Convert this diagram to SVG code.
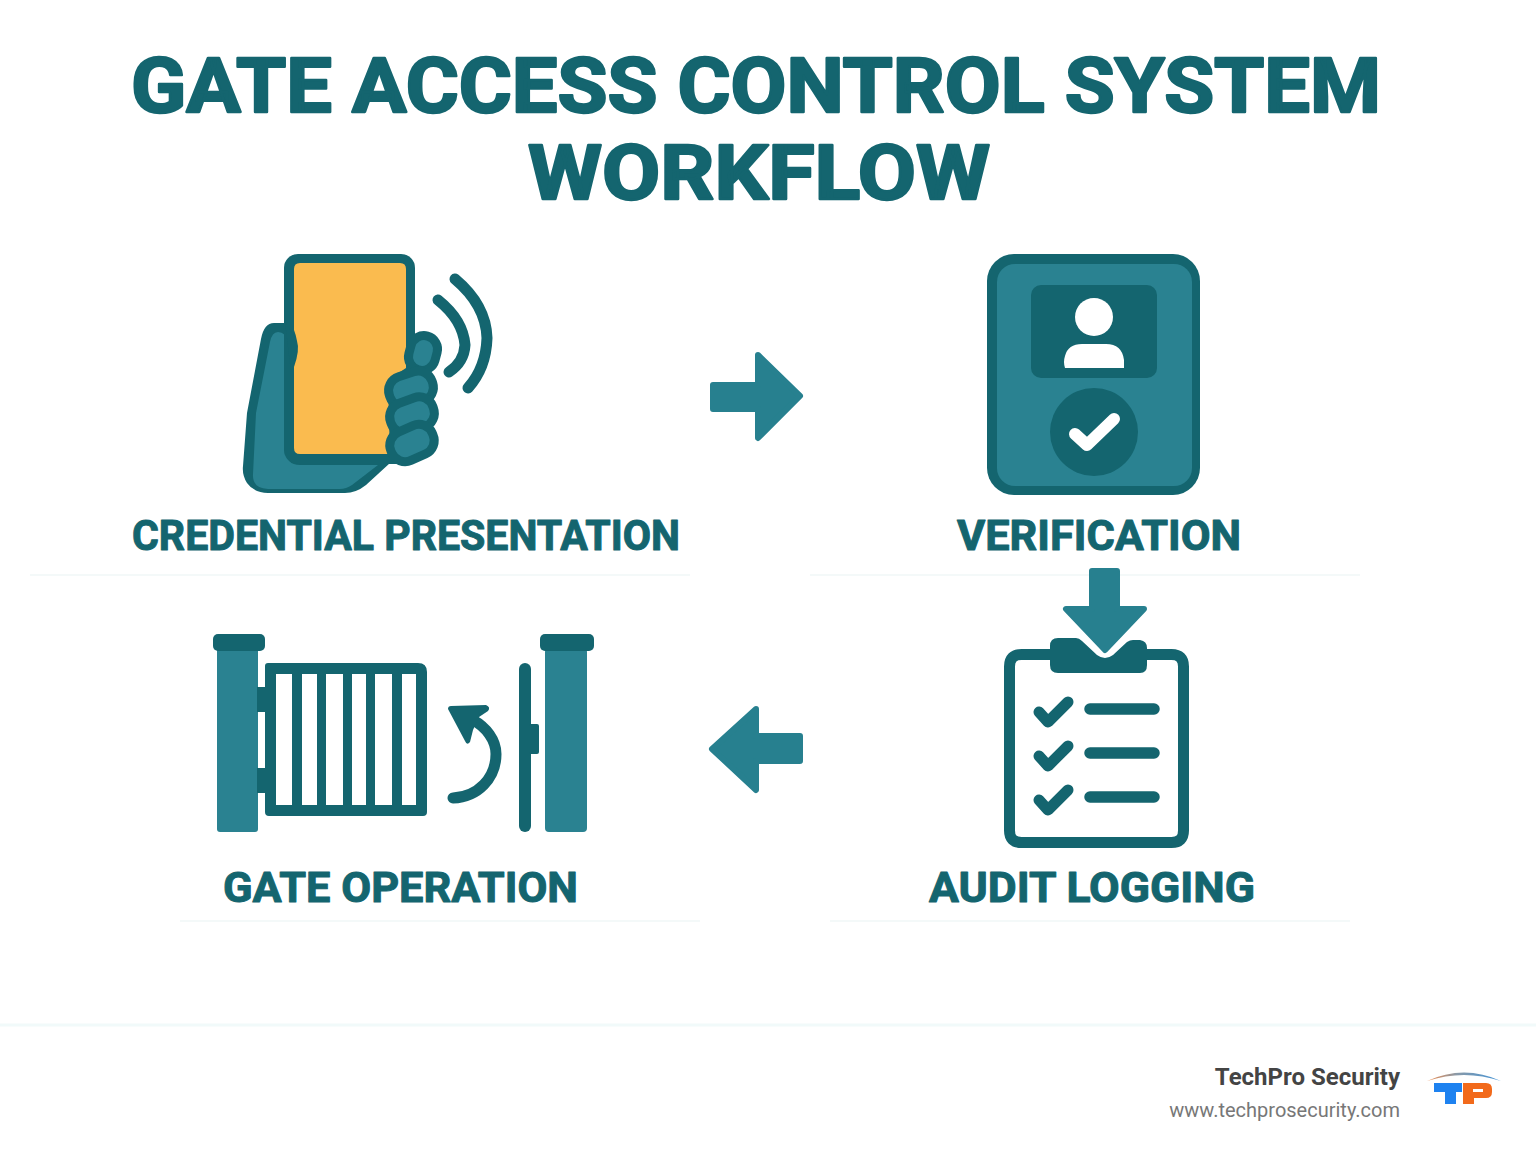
<svg xmlns="http://www.w3.org/2000/svg" width="1536" height="1154" viewBox="0 0 1536 1154">
<style>
.t{font-family:Roboto,"Liberation Sans",sans-serif;font-weight:700;fill:#14656f;stroke:#14656f;stroke-linejoin:round}
.title{font-size:76px;stroke-width:2.4px}
.lab{font-size:42px;stroke-width:1px}
.d{fill:#14656f}
.m{fill:#2a8291}
.f{fill:#2a8291;stroke:#14656f;stroke-width:18;paint-order:stroke}
.s{fill:none;stroke:#14656f;stroke-linecap:round;stroke-linejoin:round}
.a{fill:#27808f;stroke:#27808f;stroke-width:6;stroke-linejoin:round}
.w{fill:#fff}
.faint{stroke:#f4f9f9;stroke-width:2;fill:none}
</style>
<rect width="1536" height="1154" fill="#fff"/>
<g id="backdrop">
<path class="faint" d="M30 575H690M810 575H1360M180 921H700M830 921H1350"/>
<path d="M0 1025H1536" stroke="#f1fafa" stroke-width="3" fill="none"/>
</g>
<g id="title">
<text class="t title"><tspan x="131" y="112" textLength="1250" lengthAdjust="spacingAndGlyphs">GATE ACCESS CONTROL SYSTEM</tspan><tspan x="528" y="199" textLength="462" lengthAdjust="spacingAndGlyphs">WORKFLOW</tspan></text>
</g>
<g id="connectors">
<path class="a" d="M713 385H758V355L800 396L758 438V409H713Z"/>
<path class="a" d="M1092 571H1117V609H1144L1105 650L1066 609H1092Z"/>
<path class="a" d="M800 736H756V709L712 749L756 790V761H800Z"/>
</g>
<g id="credential-presentation">
<path class="d" d="M274 323H292L300 350L290 380V440L390 463L366 485Q356 493 345 493H268Q254 493 247 483Q242 475 243 466L247 413L261 339Q264 323 274 323Z"/>
<path class="m" d="M278 332Q286 332 287 342L286 450Q286 465 300 465H378L352 485Q346 489 340 489H268Q252 488 253 474L256 413L270 342Q272 332 278 332Z"/>
<rect class="d" x="284" y="254" width="131" height="210" rx="14"/>
<path class="d" d="M285 322L300 345L291 372Z"/>
<path d="M300 263H400Q406 263 406 269V448Q406 454 400 454H300Q294 454 294 448V367Q300 350 297 341Q296 335 294 330V269Q294 263 300 263Z" fill="#fabb4f"/>
<path class="d" d="M406 332H415V440L390 458L388 380L406 368Z"/>
<rect class="f" x="414" y="340" width="18" height="26" rx="9" transform="rotate(15 423 353)"/>
<rect class="f" x="393" y="378" width="36" height="22" rx="10" transform="rotate(-18 411 389)"/>
<rect class="f" x="394" y="404" width="36" height="22" rx="10" transform="rotate(-20 412 415)"/>
<rect class="f" x="394" y="432" width="36" height="22" rx="10" transform="rotate(-24 412 443)"/>
<path class="s" stroke-width="11" d="M438 300Q463 320 465 345Q464 362 449 372"/>
<path class="s" stroke-width="11" d="M455 279Q486 305 487 338Q486 368 468 388"/>
</g>
<g id="verification">
<rect class="d" x="987" y="254" width="213" height="241" rx="27"/>
<rect class="m" x="997" y="264" width="195" height="222" rx="18"/>
<rect class="d" x="1031" y="285" width="126" height="93" rx="10"/>
<circle class="w" cx="1094" cy="317" r="19"/>
<path class="w" d="M1082 344H1106Q1122 344 1124 360V368H1065Q1063 362 1065 356Q1068 344 1082 344Z"/>
<circle class="d" cx="1094" cy="432" r="44"/>
<path fill="none" stroke="#fff" stroke-width="12" stroke-linecap="round" stroke-linejoin="round" d="M1075 434L1087 445L1114 419"/>
</g>
<g id="gate-operation">
<rect class="m" x="217" y="648" width="41" height="184" rx="3"/>
<rect class="d" x="213" y="634" width="52" height="17" rx="5"/>
<rect class="d" x="257" y="687" width="10" height="25"/>
<rect class="d" x="257" y="768" width="10" height="25"/>
<path class="d" fill-rule="evenodd" d="M268 663H418Q427 663 427 672V812Q427 816 423 816H269Q265 816 265 812V666Q265 663 268 663ZM276 674V805H292V674ZM302 674V805H317V674ZM326 674V805H343V674ZM352 674V805H366V674ZM375 674V805H392V674ZM402 674V805H416V674Z"/>
<path class="s" stroke-width="11" d="M453 798C478 797 496 778 496 754C496 740 486 727 473 720"/>
<path class="d" d="M451 706L486 705Q491 707 488 711L479 717L473 730L470 742Q467 746 465 741L448 709Q448 706 451 706Z"/>
<rect class="d" x="519" y="663" width="12" height="169" rx="6"/>
<rect class="d" x="529" y="724" width="10" height="30" rx="2"/>
<rect class="m" x="545" y="648" width="42" height="184" rx="4"/>
<rect class="d" x="540" y="634" width="54" height="17" rx="5"/>
</g>
<g id="audit-logging">
<path d="M1055 654.500H1021.500Q1009.500 654.500 1009.500 666.500V830.500Q1009.500 842.500 1021.500 842.500H1171.500Q1183.500 842.500 1183.500 830.500V666.500Q1183.500 654.500 1171.500 654.500H1140" fill="none" stroke="#14656f" stroke-width="11"/>
<path class="d" d="M1058 638H1076Q1079 638 1082 641L1097 655Q1105 661 1113 655L1127 642Q1130 640 1133 640H1140Q1147 641 1147 648V665Q1147 673 1140 673H1058Q1050 673 1050 665V646Q1050 638 1058 638Z"/>
<path class="s" stroke-width="11" d="M1039 712L1048 722L1068 702M1039 756L1048 766L1068 746M1039 800L1048 810L1068 790"/>
<path class="s" stroke-width="11.500" d="M1090 709H1154M1090 753H1154M1090 797H1154"/>
</g>
<g id="labels">
<text class="t lab" x="132" y="550" textLength="548" lengthAdjust="spacingAndGlyphs">CREDENTIAL PRESENTATION</text>
<text class="t lab" x="957" y="550" textLength="284" lengthAdjust="spacingAndGlyphs">VERIFICATION</text>
<text class="t lab" x="223" y="902" textLength="355" lengthAdjust="spacingAndGlyphs">GATE OPERATION</text>
<text class="t lab" x="929" y="902" textLength="326" lengthAdjust="spacingAndGlyphs">AUDIT LOGGING</text>
</g>
<g id="footer">
<text x="1400" y="1085" text-anchor="end" font-family="Roboto,'Liberation Sans',sans-serif" font-weight="700" font-size="24" fill="#444">TechPro Security</text>
<text x="1400" y="1117" text-anchor="end" font-family="Roboto,'Liberation Sans',sans-serif" font-size="20" fill="#777">www.techprosecurity.com</text>
<defs><linearGradient id="arc" x1="0" x2="1" y1="0" y2="0"><stop offset="0" stop-color="#f08a4b"/><stop offset=".4" stop-color="#8a9aa8"/><stop offset="1" stop-color="#3f93d8"/></linearGradient></defs>
<path d="M1427 1081Q1464 1064 1501 1081Q1464 1069 1427 1081Z" fill="url(#arc)"/>
<path d="M1434 1083H1462V1092H1456V1104H1445V1092H1434Z" fill="#1e82f0"/>
<path fill="#f26a1b" fill-rule="evenodd" d="M1463 1083H1486Q1492 1083 1492 1089V1092Q1492 1098 1486 1098H1474V1104H1463ZM1473 1089V1092H1483V1089Z"/>
</g>
</svg>
